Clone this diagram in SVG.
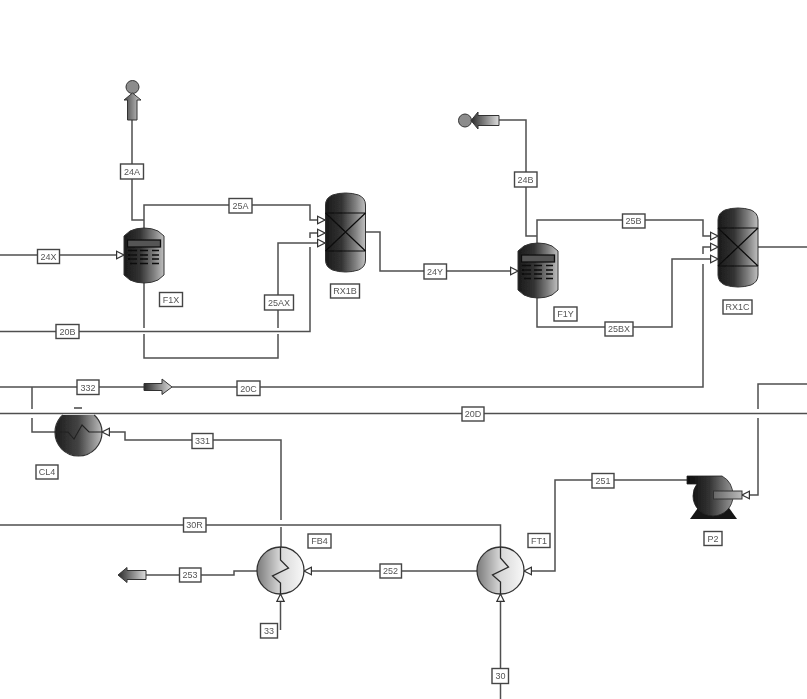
<svg xmlns="http://www.w3.org/2000/svg" width="807" height="699" viewBox="0 0 807 699">
<style>
.c{fill:none;stroke:#505050;stroke-width:1.5}
.a{marker-end:url(#tri)}
.k{fill:none;stroke:#222;stroke-width:1.1}
.kh{fill:none;stroke:#2a2a2a;stroke-width:1.3}
.l rect{fill:#fff;stroke:#444;stroke-width:1.4}
.l text,.n text{font-family:"Liberation Sans",Arial,sans-serif;font-size:9px;fill:#555;text-anchor:middle}
.n rect.t{fill:#fff;stroke:#444;stroke-width:1.4}
.tr{stroke:#0c0c0c;stroke-width:1.5;fill:none}
</style>
<defs>
<marker id="tri" markerUnits="userSpaceOnUse" markerWidth="10" markerHeight="10" refX="8" refY="4.5" orient="auto" viewBox="0 0 10 9">
<path d="M0.6,0.8 L8,4.5 L0.6,8.2 Z" fill="#fff" stroke="#333" stroke-width="1.2"/>
</marker>
<linearGradient id="dark"><stop offset="0" stop-color="#1a1a1a"/><stop offset=".4" stop-color="#333"/><stop offset=".75" stop-color="#808080"/><stop offset="1" stop-color="#c0c0c0"/></linearGradient>
<linearGradient id="cool"><stop offset="0" stop-color="#1c1c1c"/><stop offset=".5" stop-color="#444"/><stop offset="1" stop-color="#bdbdbd"/></linearGradient>
<linearGradient id="hot"><stop offset="0" stop-color="#7a7a7a"/><stop offset=".5" stop-color="#d8d8d8"/><stop offset="1" stop-color="#f8f8f8"/></linearGradient>
<linearGradient id="bar"><stop offset="0" stop-color="#2a2a2a"/><stop offset="1" stop-color="#ddd"/></linearGradient>
<linearGradient id="barv"><stop offset="0" stop-color="#444"/><stop offset="1" stop-color="#ccc"/></linearGradient>
<linearGradient id="pump" gradientUnits="userSpaceOnUse" x1="687" y1="0" x2="737" y2="0"><stop offset="0" stop-color="#0c0c0c"/><stop offset=".45" stop-color="#333"/><stop offset="1" stop-color="#a8a8a8"/></linearGradient>
<linearGradient id="shaft"><stop offset="0" stop-color="#666"/><stop offset="1" stop-color="#bbb"/></linearGradient>
<filter id="soft" filterUnits="userSpaceOnUse" x="0" y="0" width="807" height="699"><feGaussianBlur stdDeviation="0.5"/></filter>
<g id="vessel">
<path d="M0,8 L6,3 Q12,0 20,0 Q28,0 34,3 L40,8 V47 L34,52 Q28,55 20,55 Q12,55 6,52 L0,47 Z" fill="url(#dark)" stroke="#333"/>
<rect x="3.500" y="12" width="33" height="7" fill="#555" stroke="#111" stroke-width="1.3"/>
<path class="tr" d="M4,22.500h9M16,22.500h8M28,22.500h7M4,27h9M16,27h8M28,27h7M4,31h9M16,31h8M28,31h7M6,35.500h7M16,35.500h8M28,35.500h7"/>
</g>
<g id="reactor">
<path d="M0,12 Q0,5 7,2 Q13,0 20,0 Q27,0 33,2 Q40,5 40,12 V67 Q40,74 33,77 Q27,79 20,79 Q13,79 7,77 Q0,74 0,67 Z" fill="url(#dark)" stroke="#333"/>
<path d="M0,20H40M0,58H40M0,20L40,58M40,20L0,58" fill="none" stroke="#0c0c0c" stroke-width="1.2"/>
</g>
</defs>
<rect width="807" height="699" fill="#fff"/>
<g filter="url(#soft)">
<g id="connectors">
<path class="c a" d="M0,255H124"/>
<path class="c" d="M132,120V220H144"/>
<path class="c a" d="M144,228V205H310V220H325"/>
<path class="c a" d="M0,331.500H310V247M310,238V233H325"/>
<path class="c a" d="M144,283V328M144,334V358H278V334M278,328V243H325"/>
<path class="c a" d="M365,232H380V271H518"/>
<path class="c" d="M499,120H526V236H537"/>
<path class="c a" d="M537,243V220H703V236H718"/>
<path class="c a" d="M537,298V327H672V259H718"/>
<path class="c a" d="M172,387H703V264M703,254V247H718"/>
<path class="c" d="M0,387H144M757,247H807"/>
<path class="c" d="M32,387V409M32,418V432H56"/>
<path class="c" d="M0,413.500H807"/>
<path class="c a" d="M281,520V440H125V432H102"/>
<path class="c" d="M0,525H500.500V547"/>
<path class="c" d="M281,527V547"/>
<path class="c a" d="M280.500,630V594"/>
<path class="c" d="M257,571H234V575H146"/>
<path class="c a" d="M477,571H304"/>
<path class="c a" d="M500.500,699V594"/>
<path class="c a" d="M687,480H555V571H524"/>
<path class="c a" d="M807,384H758V409M758,418V495H742"/>
</g>
<g id="product-24A"><circle cx="132.500" cy="87" r="6.500" fill="#8c8c8c" stroke="#333"/><path d="M132.500,93L141,100H137V120H127.500V100H124Z" fill="url(#barv)" stroke="#333"/></g>
<g id="product-24B"><circle cx="465" cy="120.500" r="6.500" fill="#8c8c8c" stroke="#333"/><path d="M471,120.500L478,112V115.500H499V125.500H478V129Z" fill="url(#bar)" stroke="#333"/></g>
<g id="offpage-20C"><path d="M144,383.500H162V379L172,387L162,394.500V390.500H144Z" fill="url(#bar)" stroke="#333"/></g>
<g id="product-253"><path d="M118,575L127,567.500V570.500H146V579.500H127V582.500Z" fill="url(#bar)" stroke="#333"/></g>
<g id="F1X" class="n"><use href="#vessel" x="124" y="228"/><rect class="t" x="159.500" y="292.500" width="23" height="14"/><text x="171" y="302.500">F1X</text></g>
<g id="RX1B" class="n"><use href="#reactor" x="325.500" y="193"/><rect class="t" x="330.500" y="284" width="29" height="14"/><text x="345" y="294">RX1B</text></g>
<g id="F1Y" class="n"><use href="#vessel" x="518" y="243"/><rect class="t" x="554" y="307" width="23" height="14"/><text x="565.500" y="317">F1Y</text></g>
<g id="RX1C" class="n"><use href="#reactor" x="718" y="208"/><rect class="t" x="723" y="300" width="29" height="14"/><text x="737.500" y="310">RX1C</text></g>
<g id="CL4" class="n">
<path d="M62.800,415A23.500,23.500 0 1 0 94.200,415" fill="url(#cool)" stroke="#333" stroke-width="1.2"/>
<path d="M74,408H82" stroke="#444" stroke-width="1.5"/>
<path class="k" d="M55,432H68L74,439L82,425L89,432H102"/>
<rect class="t" x="36" y="465" width="22" height="14"/><text x="47" y="475">CL4</text></g>
<g id="FB4" class="n">
<circle cx="280.500" cy="570.500" r="23.500" fill="url(#hot)" stroke="#333" stroke-width="1.3"/>
<path class="kh" d="M280.500,547V560L288.500,568L272.500,576L280.500,583V594"/>
<rect class="t" x="308" y="534" width="23" height="14"/><text x="319.500" y="544">FB4</text></g>
<g id="FT1" class="n">
<circle cx="500.500" cy="570.500" r="23.500" fill="url(#hot)" stroke="#333" stroke-width="1.3"/>
<path class="kh" d="M500.500,547V558L508.500,567L492.500,575L500.500,582V594"/>
<rect class="t" x="528" y="533.500" width="22" height="14"/><text x="539" y="543.500">FT1</text></g>
<g id="P2" class="n">
<path d="M690,519L700,505H727L737,519Z" fill="#161616"/>
<path d="M687,476H722Q733,482 733,496A20,20 0 0 1 693,496Q693,489 697,484H687Z" fill="url(#pump)" stroke="#222" stroke-width=".8"/>
<rect x="713.500" y="491" width="28.500" height="8" fill="url(#shaft)" stroke="#333"/>
<rect class="t" x="704" y="531.500" width="18" height="14"/><text x="713" y="541.500">P2</text></g>
<g id="stream-labels" class="l">
<rect x="37.500" y="249.500" width="22" height="14"/><text x="48.500" y="259.500">24X</text>
<rect x="120.500" y="164" width="23" height="15"/><text x="132" y="174.500">24A</text>
<rect x="229" y="198.500" width="23" height="14.500"/><text x="240.500" y="209">25A</text>
<rect x="56" y="324.500" width="23" height="14"/><text x="67.500" y="334.500">20B</text>
<rect x="264.500" y="295" width="29" height="15"/><text x="279" y="305.500">25AX</text>
<rect x="424" y="264" width="22.500" height="15"/><text x="435" y="274.500">24Y</text>
<rect x="514.500" y="172" width="22.500" height="15"/><text x="525.500" y="182.500">24B</text>
<rect x="622.500" y="214" width="22.500" height="14"/><text x="633.500" y="224">25B</text>
<rect x="605" y="322" width="28" height="14"/><text x="619" y="332">25BX</text>
<rect x="77" y="380" width="22" height="14.500"/><text x="88" y="390.500">332</text>
<rect x="237" y="381" width="23" height="14.500"/><text x="248.500" y="391.500">20C</text>
<rect x="462" y="407" width="22" height="14"/><text x="473" y="417">20D</text>
<rect x="192" y="433.500" width="21" height="15"/><text x="202.500" y="444">331</text>
<rect x="183.500" y="518" width="22.500" height="14"/><text x="194.500" y="528">30R</text>
<rect x="179.500" y="568" width="21.500" height="14"/><text x="190" y="578">253</text>
<rect x="380" y="564" width="21.500" height="14"/><text x="390.500" y="574">252</text>
<rect x="592" y="473.500" width="22" height="14.500"/><text x="603" y="484">251</text>
<rect x="260.500" y="623.500" width="17" height="14.500"/><text x="269" y="634">33</text>
<rect x="492" y="668.500" width="16.500" height="15"/><text x="500.500" y="679">30</text>
</g>
</g>
</svg>
